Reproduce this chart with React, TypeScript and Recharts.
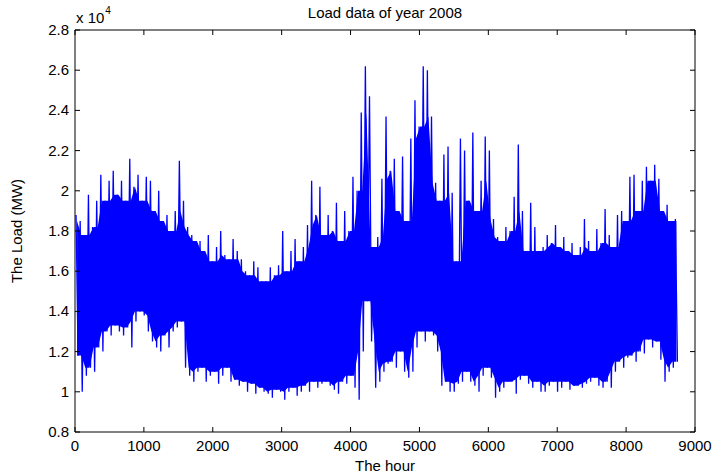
import React from "react";
import { ComposedChart, Line, Area, XAxis, YAxis } from "recharts";

// Hourly load of 2008, summarised per 60-hour block: the block's highest and lowest load (MW)
const blockHours = 60;
const blockPeakLoad = [
  18800, 18500, 17800, 19800, 18200, 19500, 20800, 19500, 20500, 21000,
  19800, 20500, 19500, 21600, 20200, 20800, 19500, 20700, 20500, 19000,
  20000, 18500, 18800, 18000, 19000, 21500, 19500, 18200, 17800, 17500,
  17500, 17000, 17800, 16500, 17200, 18000, 16800, 16600, 17600, 17000,
  16600, 16000, 15800, 16500, 16200, 15500, 15500, 16200, 15800, 16300,
  18000, 16000, 17000, 17600, 16500, 17200, 18300, 20500, 18800, 20200,
  17800, 18800, 18000, 19400, 17500, 19000, 18000, 20700, 20000, 23900,
  26200, 24700, 17200, 17700, 20600, 23700, 21000, 21600, 19000, 21700,
  18500, 22600, 24500, 23200, 26200, 26000, 23700, 20400, 19500, 21800,
  22200, 19900, 16500, 22600, 22000, 19500, 22900, 19000, 20500, 22700,
  22000, 18600, 17700, 17500, 18200, 18000, 19700, 22300, 19000, 17000,
  19400, 18200, 17000, 17200, 17800, 17400, 18300, 17200, 17700, 17000,
  17400, 16800, 17200, 18600, 17500, 17000, 18100, 17400, 19100, 17800,
  17200, 18800, 19000, 18500, 20700, 20800, 19000, 20500, 21200, 20500,
  21300, 20600, 19000, 19300, 18500, 18600,
];
const blockLowLoad = [
  11800, 10000, 10800, 11200, 11000, 12200, 12000, 13000, 12800, 13300,
  13000, 12800, 13200, 12200, 13500, 14000, 13800, 13000, 12500, 12200,
  12000, 12800, 12200, 13000, 13200, 13500, 11200, 10800, 10500, 11000,
  11200, 10500, 10800, 11000, 10400, 10800, 11200, 10500, 10600, 10300,
  10500, 10000, 10400, 9900, 10200, 10000, 9900, 9700, 10100, 10000,
  9600, 10000, 10200, 9800, 10000, 10300, 10000, 10500, 10200, 10400,
  10500, 10300, 10100, 9900, 10500, 10400, 10800, 10200, 9600, 12000,
  14500, 12500, 10200, 10500, 11000, 11400, 11500, 11200, 12000, 11000,
  10700, 11000, 12200, 13000, 12500, 13000, 12800, 12000, 10300, 10500,
  10000, 10000, 10400, 10500, 11000, 10500, 10300, 10000, 10800, 11200,
  10700, 9700, 10000, 10200, 10500, 10500, 9900, 10600, 10800, 10400,
  10200, 10500, 10000, 10000, 10300, 10500, 10000, 10200, 10500, 10100,
  10300, 10300, 10200, 10400, 10500, 10700, 10300, 10200, 10500, 10200,
  11000, 11500, 11200, 11700, 11800, 11500, 12000, 11900, 12600, 12200,
  12500, 11600, 10500, 11000, 11200, 11500,
];

const hourTicks = [0, 1000, 2000, 3000, 4000, 5000, 6000, 7000, 8000, 9000];
const loadTicks = [8000, 10000, 12000, 14000, 16000, 18000, 20000, 22000, 24000, 26000, 28000];
const loadTickLabels = ["0.8", "1", "1.2", "1.4", "1.6", "1.8", "2", "2.2", "2.4", "2.6", "2.8"];

const titleText = "Load data of year 2008";
const xLabelText = "The hour";
const yLabelText = "The Load (MW)";

// zig-zag trace: block peak then block low
const traceData = blockPeakLoad.flatMap((peak, i) => [
  { hour: i * blockHours + 15, load: peak },
  { hour: i * blockHours + 45, load: blockLowLoad[i] },
]);

// dense core of the trace: between the highest neighbouring low and the lowest neighbouring peak
const neighbours = (arr: number[], i: number) =>
  [arr[i - 1], arr[i], arr[i + 1]].filter((v) => v !== undefined) as number[];
const coreData = blockPeakLoad.map((_, i) => {
  const top = Math.min(...neighbours(blockPeakLoad, i));
  const bottom = Math.max(...neighbours(blockLowLoad, i));
  return { hour: i * blockHours + 30, core: [Math.min(bottom, top), top] };
});

const W = 715;
const H = 476;
const LEFT = 75;
const RIGHT = 695;
const TOP = 30;
const BOTTOM = 432;
const FONT = "'Liberation Sans', Arial, Helvetica, sans-serif";
const TICK_LEN = 5;

const BottomTick = (props: any) => {
  const { x, payload } = props;
  return (
    <g>
      <line x1={x} x2={x} y1={BOTTOM} y2={BOTTOM - TICK_LEN} stroke="#000" strokeWidth={1} />
      <text x={x} y={BOTTOM + 19} textAnchor="middle" fontSize={15} fontFamily={FONT} fill="#000">
        {payload.value}
      </text>
    </g>
  );
};

const TopTick = (props: any) => {
  const { x } = props;
  return <line x1={x} x2={x} y1={TOP} y2={TOP + TICK_LEN} stroke="#000" strokeWidth={1} />;
};

const LeftTick = (props: any) => {
  const { y, payload } = props;
  const idx = loadTicks.indexOf(payload.value);
  return (
    <g>
      <line x1={LEFT} x2={LEFT + TICK_LEN} y1={y} y2={y} stroke="#000" strokeWidth={1} />
      <text x={LEFT - 6} y={y + 5} textAnchor="end" fontSize={15} fontFamily={FONT} fill="#000">
        {idx >= 0 ? loadTickLabels[idx] : ""}
      </text>
    </g>
  );
};

const RightTick = (props: any) => {
  const { y } = props;
  return <line x1={RIGHT} x2={RIGHT - TICK_LEN} y1={y} y2={y} stroke="#000" strokeWidth={1} />;
};

export default function App() {
  return (
    <div style={{ position: "absolute", left: 0, top: 0, width: W, height: H, background: "#fff" }}>
      <ComposedChart
        width={W}
        height={H}
        data={traceData}
        margin={{ top: TOP - 1, right: W - RIGHT - 1, bottom: 0, left: 0 }}
      >
        <XAxis
          xAxisId="b"
          dataKey="hour"
          type="number"
          domain={[0, 9000]}
          ticks={hourTicks}
          interval={0}
          height={H - BOTTOM}
          axisLine={{ stroke: "#000", strokeWidth: 1 }}
          tickLine={false}
          tick={<BottomTick />}
          label={{
            content: () => (
              <text x={(LEFT + RIGHT) / 2} y={471} textAnchor="middle" fontSize={15} fontFamily={FONT} fill="#000">
                {xLabelText}
              </text>
            ),
          }}
        />
        <XAxis
          xAxisId="t"
          dataKey="hour"
          type="number"
          orientation="top"
          domain={[0, 9000]}
          ticks={hourTicks}
          interval={0}
          height={1}
          axisLine={{ stroke: "#000", strokeWidth: 1 }}
          tickLine={false}
          tick={<TopTick />}
          label={{
            content: () => (
              <text x={(LEFT + RIGHT) / 2} y={18} textAnchor="middle" fontSize={15} fontFamily={FONT} fill="#000">
                {titleText}
              </text>
            ),
          }}
        />
        <YAxis
          yAxisId="l"
          type="number"
          domain={[8000, 28000]}
          ticks={loadTicks}
          interval={0}
          width={LEFT}
          axisLine={{ stroke: "#000", strokeWidth: 1 }}
          tickLine={false}
          tick={<LeftTick />}
          label={{
            content: () => (
              <text
                x={22}
                y={(TOP + BOTTOM) / 2}
                transform={`rotate(-90 22 ${(TOP + BOTTOM) / 2})`}
                textAnchor="middle"
                fontSize={15}
                fontFamily={FONT}
                fill="#000"
              >
                {yLabelText}
              </text>
            ),
          }}
        />
        <YAxis
          yAxisId="r"
          orientation="right"
          type="number"
          domain={[8000, 28000]}
          ticks={loadTicks}
          interval={0}
          width={1}
          axisLine={{ stroke: "#000", strokeWidth: 1 }}
          tickLine={false}
          tick={<RightTick />}
          label={{
            content: () => (
              <text x={76} y={23} fontSize={15} fontFamily={FONT} fill="#000">
                x 10
                <tspan dx={1} dy={-9} fontSize={10}>4</tspan>
              </text>
            ),
          }}
        />
        <Line
          xAxisId="t"
          yAxisId="r"
          type="linear"
          dataKey="load"
          stroke="none"
          strokeWidth={0}
          dot={false}
          activeDot={false}
          legendType="none"
          isAnimationActive={false}
        />
        <Area
          xAxisId="b"
          yAxisId="l"
          data={coreData}
          type="linear"
          dataKey="core"
          stroke="none"
          fill="#0000ff"
          fillOpacity={1}
          activeDot={false}
          isAnimationActive={false}
        />
        <Line
          xAxisId="b"
          yAxisId="l"
          type="linear"
          dataKey="load"
          stroke="#0000ff"
          strokeWidth={1.3}
          strokeLinejoin="miter"
          dot={false}
          isAnimationActive={false}
        />
      </ComposedChart>
    </div>
  );
}
